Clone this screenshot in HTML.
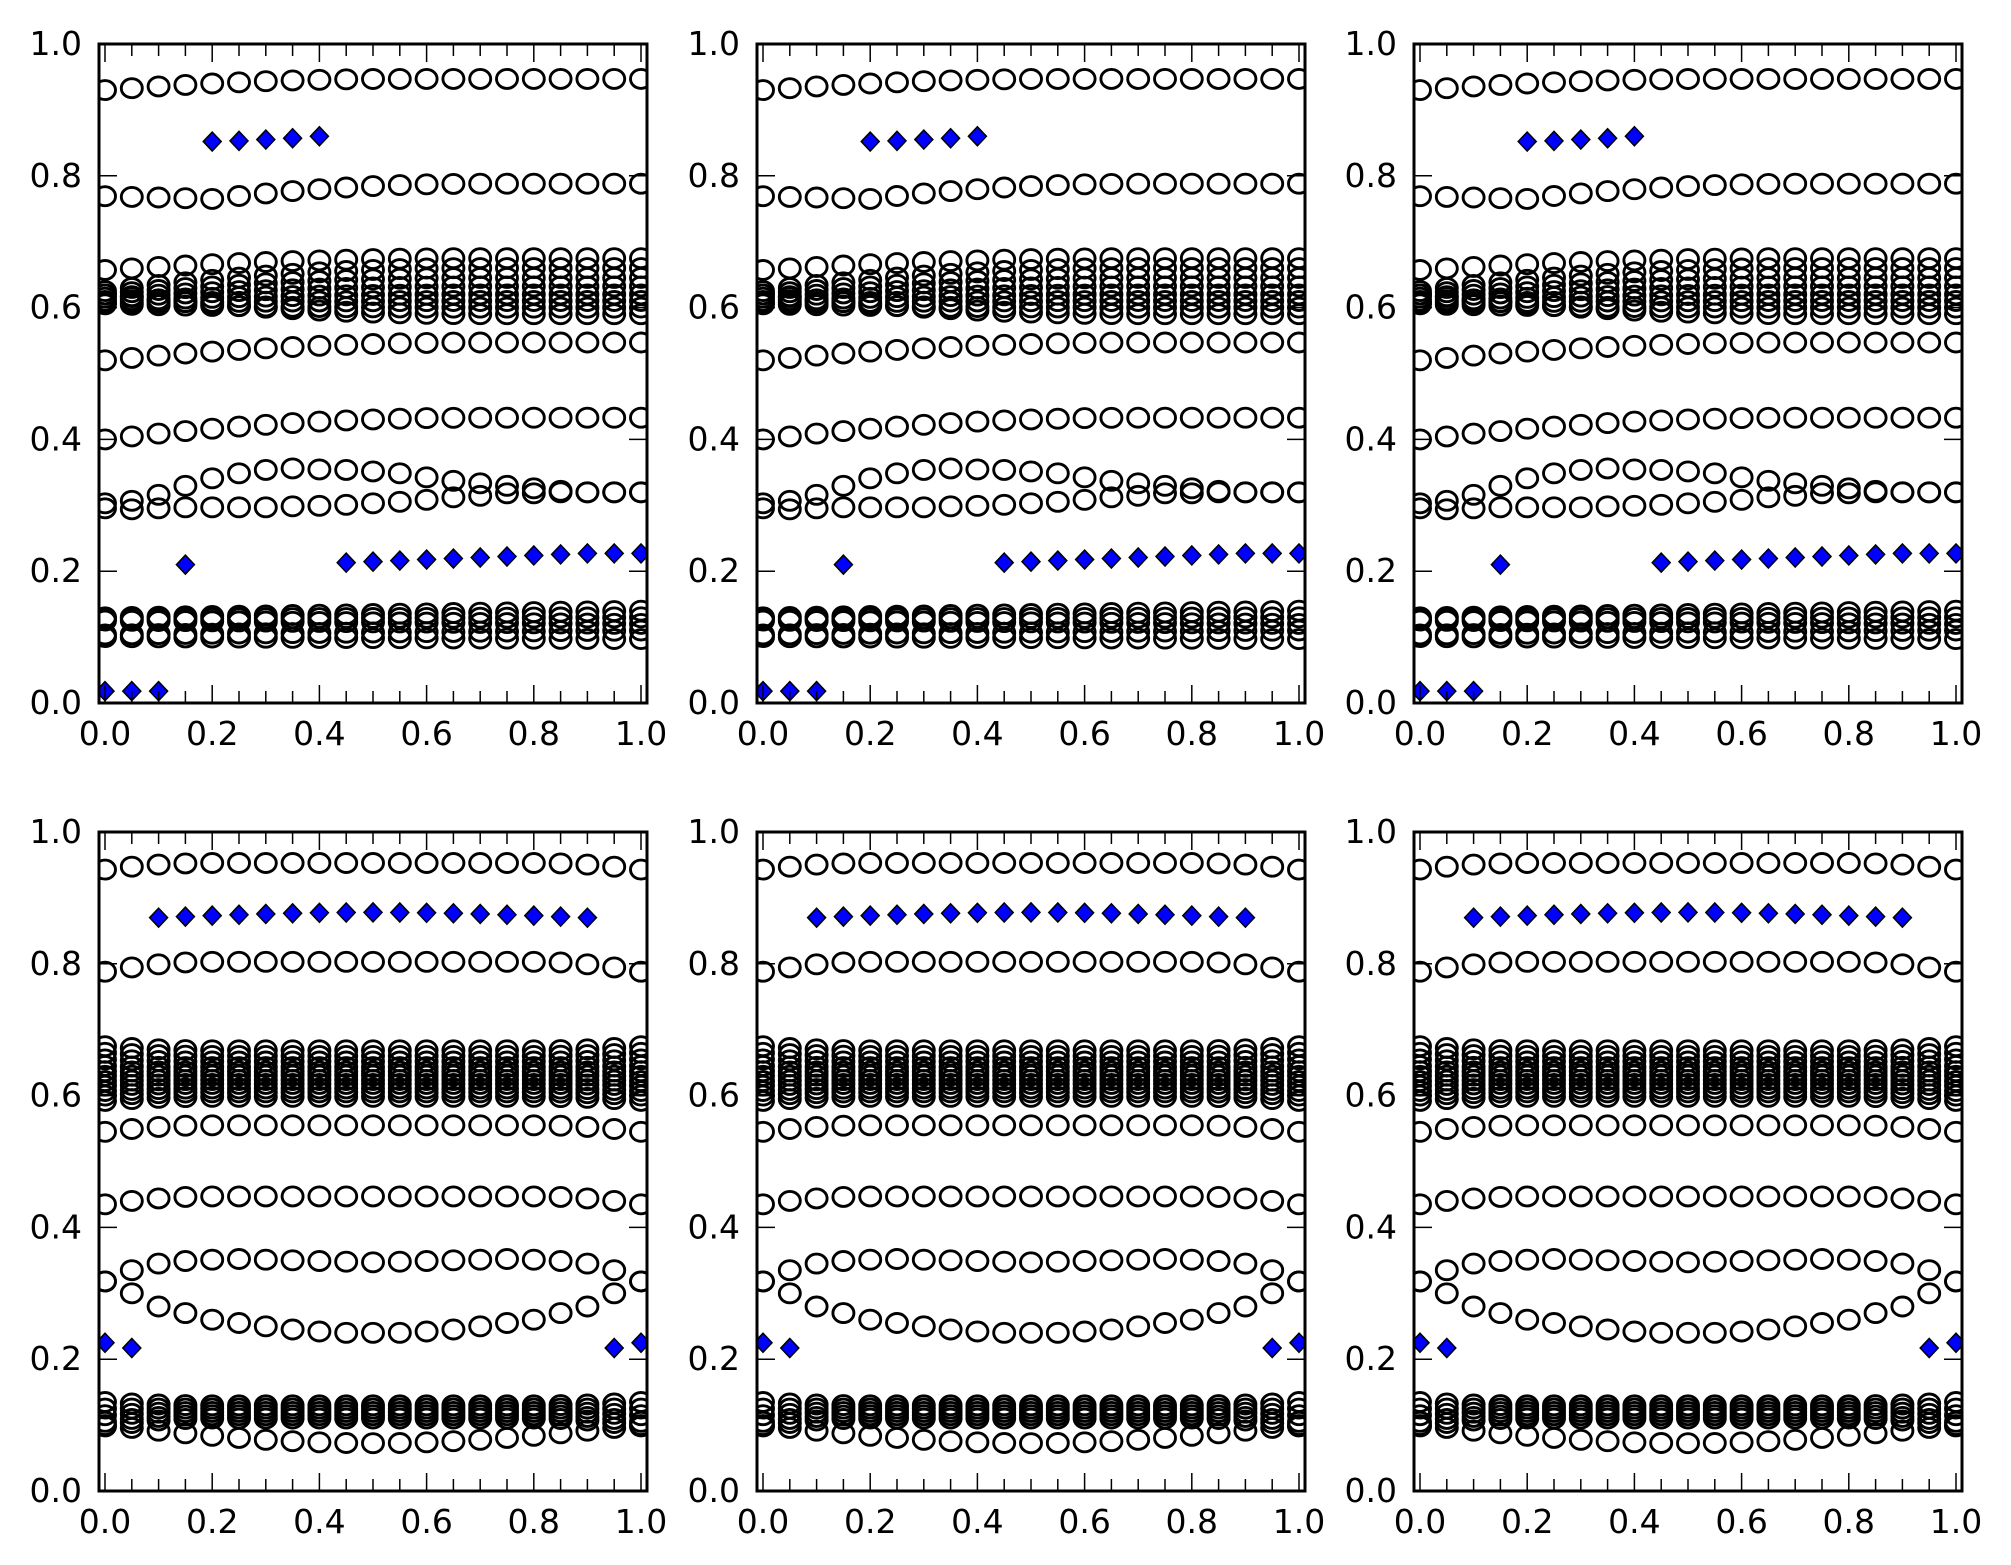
<!DOCTYPE html>
<html><head><meta charset="utf-8"><style>
html,body{margin:0;padding:0;background:#fff;}
svg{display:block;}
text{font-family:"DejaVu Sans","Liberation Sans",sans-serif;font-size:33px;fill:#000;}
</style></head><body>
<svg id="s" width="2011" height="1565" viewBox="0 0 2011 1565" xmlns="http://www.w3.org/2000/svg"></svg>
<script>
var S=document.getElementById('s'),out='';
var lefts=[99,757,1414],tops=[44,832],W=548,H=659;
function lerp(a,b,t){return a+(b-a)*t;}
var N=21;
function topSeries(){
 var s=[],d=[];
 var A=[],B=[],D=[],E=[];
 for(var i=0;i<N;i++){var x=i/20;
  A.push(0.93+0.017*Math.min(1,x/0.55)*(2-Math.min(1,x/0.55)));
  B.push(x<0.2?0.769-0.004*x/0.2:0.765+0.023*Math.min(1,(x-0.2)/0.5)*(2-Math.min(1,(x-0.2)/0.5)));
  D.push(0.52+0.027*Math.min(1,x/0.7)*(2-Math.min(1,x/0.7)));
  E.push(0.40+0.033*Math.min(1,x/0.7)*(2-Math.min(1,x/0.7)));}
 s.push(A,B,D,E);
 var c0=[0.657,0.625,0.62,0.615,0.61,0.607,0.605,0.62],c1=[0.675,0.66,0.645,0.632,0.62,0.61,0.6,0.59];
 for(var k=0;k<c0.length;k++){var r=[];for(var i=0;i<N;i++){var t=Math.min(1,i/14);r.push(lerp(c0[k],c1[k],t*(2-t)));}s.push(r);}
 var F=[1010,1005,993,975,960,950,943,940,942,943,946,950,958,965,970,975,980,985,988,988,988].map(function(p){return (1410-p)/1320;});
 var G=[1020,1022,1020,1018,1018,1018,1018,1016,1015,1013,1010,1007,1003,998,995,990,990,988,988,988,988].map(function(p){return (1410-p)/1320;});
 s.push(F,G);
 var h0=[0.13,0.128,0.125,0.104,0.10],h1=[0.14,0.13,0.12,0.11,0.097];
 for(var k=0;k<5;k++){var r=[];for(var i=0;i<N;i++)r.push(lerp(h0[k],h1[k],i/20));s.push(r);}
 d.push([0,0.018],[0.05,0.018],[0.1,0.018],[0.15,0.21]);
 var tv=[0.852,0.853,0.855,0.857,0.86];for(var i=0;i<5;i++)d.push([0.2+0.05*i,tv[i]]);
 for(var i=9;i<N;i++)d.push([i/20,0.213+0.014*Math.min(1,(i-9)/9)]);
 return [s,d];
}
function botSeries(){
 var s=[],d=[];
 function sym(e,m,f){var r=[];for(var i=0;i<N;i++){var x=i/20;var t=f?f(x):Math.sin(Math.PI*x);r.push(e+(m-e)*t);}return r;}
 var bump=function(x){var u=Math.min(1,Math.min(x,1-x)/0.2);return u*(2-u);};
 s.push(sym(0.943,0.953,bump),sym(0.788,0.803,bump),sym(0.545,0.555,bump),sym(0.435,0.447,bump));
 var F=[0.318,0.335,0.345,0.349,0.351,0.352,0.351,0.35,0.349,0.348,0.347,0.348,0.349,0.35,0.351,0.352,0.351,0.349,0.345,0.335,0.318];
 var G=[0.318,0.30,0.28,0.27,0.26,0.255,0.25,0.245,0.242,0.24,0.24,0.24,0.242,0.245,0.25,0.255,0.26,0.27,0.28,0.30,0.318];
 s.push(F,G);
 var c=[0.675,0.665,0.655,0.645,0.637,0.63,0.622,0.615,0.607,0.6,0.592];
 for(var k=0;k<c.length;k++){s.push(sym(c[k],c[k]+(0.633-c[k])*0.15,bump));}
 var h0=[0.135,0.125,0.115,0.105,0.098],h1=[0.13,0.125,0.12,0.115,0.11];
 for(var k=0;k<5;k++)s.push(sym(h0[k],h1[k],bump));
 s.push(sym(0.1,0.0725,function(x){return Math.sin(Math.PI*x);}));
 d.push([0,0.225],[0.05,0.217],[0.95,0.217],[1,0.225]);
 for(var i=2;i<=18;i++){var x=i/20;d.push([x,0.870+0.008*Math.sin(Math.PI*(i-2)/16)]);}
 return [s,d];
}
var T=topSeries(),B=botSeries();
var cid=0;
function panel(L,Tp,data){
 var X=function(v){return L+6+v*(W-12);},Y=function(v){return Tp+H-v*H;};
 cid++;
 out+='<clipPath id="c'+cid+'"><rect x="'+L+'" y="'+Tp+'" width="'+W+'" height="'+H+'"/></clipPath><g clip-path="url(#c'+cid+')">';
 data[0].forEach(function(r){r.forEach(function(v,i){out+='<ellipse cx="'+X(i/20).toFixed(1)+'" cy="'+Y(v).toFixed(1)+'" rx="10.5" ry="9.5" fill="none" stroke="#000" stroke-width="2.9"/>';});});
 data[1].forEach(function(p){var cx=X(p[0]),cy=Y(p[1]);out+='<polygon points="'+(cx-9)+','+cy+' '+cx+','+(cy-9.5)+' '+(cx+9)+','+cy+' '+cx+','+(cy+9.5)+'" fill="#0000ff" stroke="#000" stroke-width="1.5"/>';});
 out+='</g>';
 for(var i=0;i<N;i++){var x=X(i/20),len=(i%4==0)?18:12;
  out+='<line x1="'+x+'" y1="'+Tp+'" x2="'+x+'" y2="'+(Tp+len)+'" stroke="#000" stroke-width="1.5"/>';
  out+='<line x1="'+x+'" y1="'+(Tp+H)+'" x2="'+x+'" y2="'+(Tp+H-len)+'" stroke="#000" stroke-width="1.5"/>';}
 for(var k=0;k<=5;k++){var y=Y(k*0.2);
  out+='<line x1="'+L+'" y1="'+y+'" x2="'+(L+18)+'" y2="'+y+'" stroke="#000" stroke-width="1.5"/>';
  out+='<line x1="'+(L+W)+'" y1="'+y+'" x2="'+(L+W-18)+'" y2="'+y+'" stroke="#000" stroke-width="1.5"/>';
  out+='<text x="'+(L-17)+'" y="'+(y+11)+'" text-anchor="end">'+(k*0.2).toFixed(1)+'</text>';
  out+='<text x="'+X(k*0.2)+'" y="'+(Tp+H+42)+'" text-anchor="middle">'+(k*0.2).toFixed(1)+'</text>';}
 out+='<rect x="'+L+'" y="'+Tp+'" width="'+W+'" height="'+H+'" fill="none" stroke="#000" stroke-width="3"/>';
}
for(var r=0;r<2;r++)for(var c=0;c<3;c++)panel(lefts[c],tops[r],r?B:T);
S.innerHTML=out;
</script>
</body></html>
